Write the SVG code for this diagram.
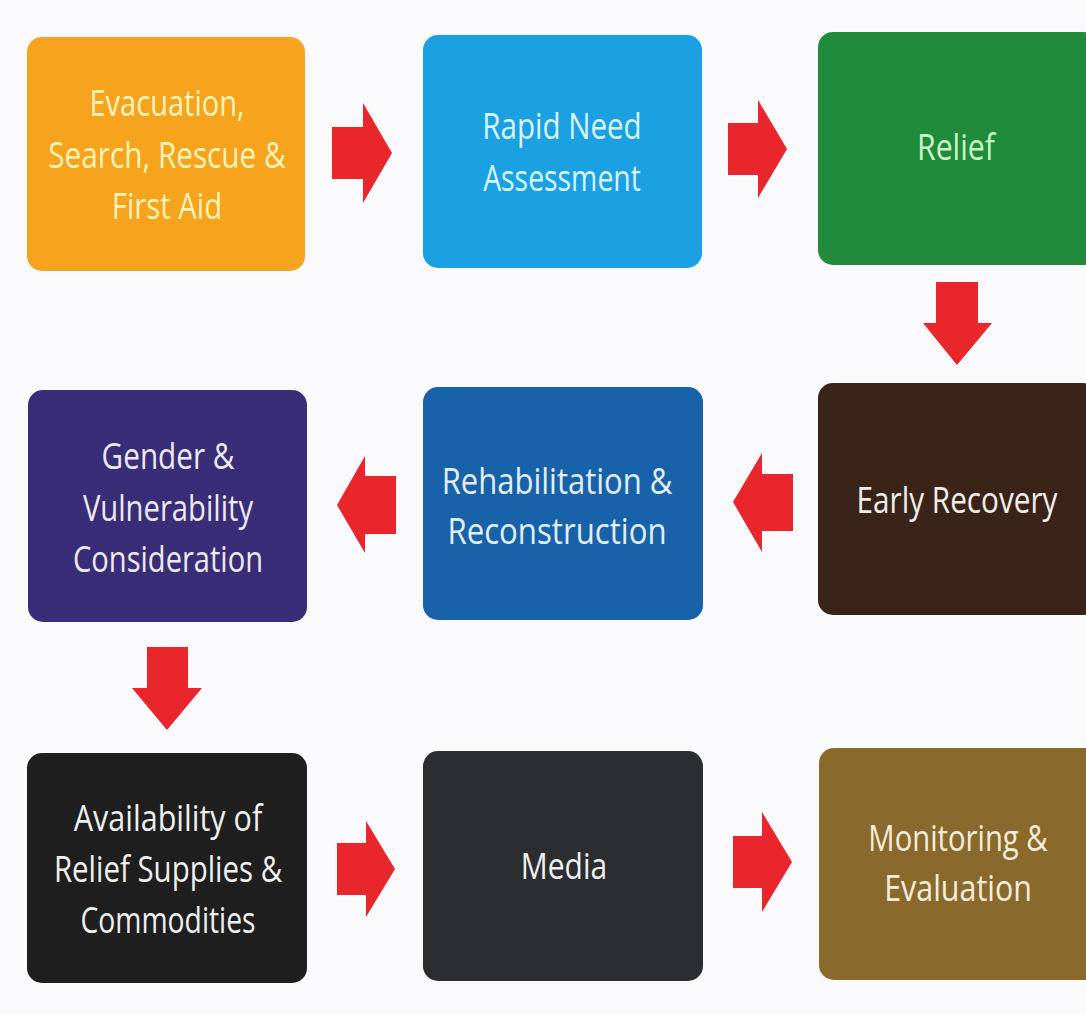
<svg xmlns="http://www.w3.org/2000/svg" width="1086" height="1015" viewBox="0 0 1086 1015">
<style>
.box{stroke:none}
.lbl{font-family:"Open Sans","Liberation Sans",sans-serif;font-size:36px;text-anchor:middle}
.arr{fill:#E8262C}
</style>
<rect x="0" y="0" width="1086" height="1015" fill="#FAFAFC"/>
<g id="n1"><rect class="box" x="27" y="37" width="278" height="234" rx="15" fill="#F6A31E"/>
<text class="lbl" fill="#FFF4B8" transform="matrix(0.83 0 0 1 167 0)"><tspan x="0" y="116" textLength="187" lengthAdjust="spacingAndGlyphs">Evacuation,</tspan><tspan x="0" y="168" textLength="286" lengthAdjust="spacingAndGlyphs">Search, Rescue &amp;</tspan><tspan x="0" y="219" textLength="133" lengthAdjust="spacingAndGlyphs">First Aid</tspan></text></g>
<g id="n2"><rect class="box" x="423" y="35" width="279" height="233" rx="15" fill="#1BA1E2"/>
<text class="lbl" fill="#D8F4FF" transform="matrix(0.83 0 0 1 562 0)"><tspan x="0" y="139" textLength="192" lengthAdjust="spacingAndGlyphs">Rapid Need</tspan><tspan x="0" y="191" textLength="190" lengthAdjust="spacingAndGlyphs">Assessment</tspan></text></g>
<g id="n3"><rect class="box" x="818" y="32" width="280" height="233" rx="15" fill="#1F8B3B"/>
<text class="lbl" fill="#CBF5C4" transform="matrix(0.83 0 0 1 956 0)"><tspan x="0" y="160" textLength="94" lengthAdjust="spacingAndGlyphs">Relief</tspan></text></g>
<g id="n4"><rect class="box" x="28" y="390" width="279" height="232" rx="15" fill="#3A2D77"/>
<text class="lbl" fill="#ECEAF4" transform="matrix(0.83 0 0 1 168 0)"><tspan x="0" y="469" textLength="160" lengthAdjust="spacingAndGlyphs">Gender &amp;</tspan><tspan x="0" y="521" textLength="205" lengthAdjust="spacingAndGlyphs">Vulnerability</tspan><tspan x="0" y="572" textLength="229" lengthAdjust="spacingAndGlyphs">Consideration</tspan></text></g>
<g id="n5"><rect class="box" x="423" y="387" width="280" height="233" rx="15" fill="#1762A9"/>
<text class="lbl" fill="#E4EEF8" transform="matrix(0.83 0 0 1 557 0)"><tspan x="0" y="494" textLength="278" lengthAdjust="spacingAndGlyphs">Rehabilitation &amp;</tspan><tspan x="0" y="544" textLength="264" lengthAdjust="spacingAndGlyphs">Reconstruction</tspan></text></g>
<g id="n6"><rect class="box" x="818" y="383" width="280" height="232" rx="15" fill="#3A2419"/>
<text class="lbl" fill="#F2EEEC" transform="matrix(0.83 0 0 1 957 0)"><tspan x="0" y="513" textLength="242" lengthAdjust="spacingAndGlyphs">Early Recovery</tspan></text></g>
<g id="n7"><rect class="box" x="27" y="753" width="280" height="230" rx="15" fill="#1F1F1F"/>
<text class="lbl" fill="#F0F0F0" transform="matrix(0.83 0 0 1 168 0)"><tspan x="0" y="831" textLength="227" lengthAdjust="spacingAndGlyphs">Availability of</tspan><tspan x="0" y="882" textLength="275" lengthAdjust="spacingAndGlyphs">Relief Supplies &amp;</tspan><tspan x="0" y="933" textLength="211" lengthAdjust="spacingAndGlyphs">Commodities</tspan></text></g>
<g id="n8"><rect class="box" x="423" y="751" width="280" height="230" rx="15" fill="#2B2D31"/>
<text class="lbl" fill="#F0F0F0" transform="matrix(0.83 0 0 1 564 0)"><tspan x="0" y="879" textLength="104" lengthAdjust="spacingAndGlyphs">Media</tspan></text></g>
<g id="n9"><rect class="box" x="819" y="748" width="280" height="232" rx="15" fill="#8A6A2C"/>
<text class="lbl" fill="#F6EEDC" transform="matrix(0.83 0 0 1 958 0)"><tspan x="0" y="851" textLength="216" lengthAdjust="spacingAndGlyphs">Monitoring &amp;</tspan><tspan x="0" y="901" textLength="178" lengthAdjust="spacingAndGlyphs">Evaluation</tspan></text></g>
<g id="connectors">
<polygon class="arr" points="332,127 363,127 363,103 392,153 363,203 363,179 332,179"/>
<polygon class="arr" points="728,123 758,123 758,100 787,149 758,198 758,175 728,175"/>
<polygon class="arr" points="936,282 978,282 978,323 992,323 957,365 923,323 936,323"/>
<polygon class="arr" points="396,476 365,476 365,456 337,505 365,553 365,534 396,534"/>
<polygon class="arr" points="793,474 762,474 762,453 733,502 762,552 762,531 793,531"/>
<polygon class="arr" points="147,647 188,647 188,688 202,688 167,730 132,688 147,688"/>
<polygon class="arr" points="337,843 366,843 366,821 395,869 366,917 366,895 337,895"/>
<polygon class="arr" points="733,836 762,836 762,812 792,862 762,912 762,888 733,888"/>
</g>
</svg>
